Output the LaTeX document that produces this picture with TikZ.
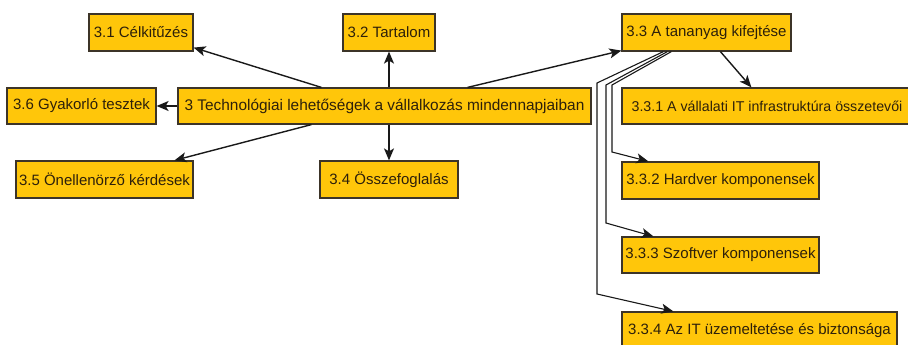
\documentclass[tikz,border=0pt]{standalone}
\usepackage{fontspec}
\setmainfont{Liberation Sans}
\usetikzlibrary{arrows.meta,calc}
\definecolor{boxfill}{RGB}{255,198,10}
\definecolor{boxline}{RGB}{60,52,40}
\definecolor{boxtext}{RGB}{45,32,10}
\begin{document}
\begin{tikzpicture}[x=1pt,y=-1pt,
  topic/.style={draw=boxline,line width=1.2pt,fill=boxfill,text=boxtext,
    font=\fontsize{15}{18}\selectfont,inner sep=0pt,anchor=center,
    minimum height=36pt},
  link/.style={draw=black!90,line width=1.4pt,-{Stealth[length=12pt,width=10pt,inset=3pt]}},
  sublink/.style={draw=black!90,line width=1.1pt,-{Stealth[length=12pt,width=10pt,inset=3pt]}}]
\useasboundingbox (0,0) rectangle (908,345);
\begin{scope}
\clip (0,0) rectangle (908,345);
% main topic and its sections
\node[topic,minimum width=413pt,font=\fontsize{15.4}{18}\selectfont] (main) at (384.5,106) {3 Technológiai lehetőségek a vállalkozás mindennapjaiban};
\node[topic,minimum width=104pt,minimum height=37pt] (n31) at (141,32.5) {3.1 Célkitűzés};
\node[topic,minimum width=92pt,minimum height=37pt] (n32) at (389,32.5) {3.2 Tartalom};
\node[topic,minimum width=169pt,minimum height=37pt] (n33) at (706.5,32.5) {3.3 A tananyag kifejtése};
\node[topic,minimum width=138pt,minimum height=37pt] (n34) at (389,179.5) {3.4 Összefoglalás};
\node[topic,minimum width=177pt,minimum height=37pt] (n35) at (104.5,179.5) {3.5 Önellenörző kérdések};
\node[topic,minimum width=149pt] (n36) at (81.5,106) {3.6 Gyakorló tesztek};
% subsections of 3.3
\node[topic,minimum width=290pt,font=\fontsize{14.2}{17}\selectfont] (n331) at (767,106) {3.3.1 A vállalati IT infrastruktúra összetevői};
\node[topic,minimum width=197pt,minimum height=37pt] (n332) at (720.5,180.5) {3.3.2 Hardver komponensek};
\node[topic,minimum width=197pt] (n333) at (720.5,255) {3.3.3 Szoftver komponensek};
\node[topic,minimum width=275pt,minimum height=37pt] (n334) at (759.5,330.5) {3.3.4 Az IT üzemeltetése és biztonsága};

% connectors from the main topic
\draw[link] ($(main.north west)+(144,0)$) -- ($(n31.south east)+(0,-4)$);
\draw[link] (n32 |- main.north) -- (n32.south);
\draw[link] (main.west) -- (n36.east);
\draw[link] ($(main.south west)+(134,0)$) -- ($(n35.north west)+(159,0)$);
\draw[link] (n34 |- main.south) -- (n34.north);
\draw[link] ($(main.north east)+(-124,0)$) -- ($(n33.south west)+(0,-1)$);

% connectors inside section 3.3
\draw[link] ($(n33.south west)+(99,0)$) -- ($(n331.north west)+(130,0)$);
\coordinate (b2a) at (612,85);  \coordinate (b2b) at (612,152);
\coordinate (b3a) at (606,85);  \coordinate (b3b) at (606,223);
\coordinate (b4a) at (597,83);  \coordinate (b4b) at (597,294);
\draw[sublink] ($(n33.south west)+(50,0)$) -- (b2a) -- (b2b) -- ($(n332.north west)+(27,0)$);
\draw[sublink] ($(n33.south west)+(46,0)$) -- (b3a) -- (b3b) -- ($(n333.north west)+(32,0)$);
\draw[sublink] ($(n33.south west)+(42,0)$) -- (b4a) -- (b4b) -- ($(n334.north west)+(52,0)$);
\end{scope}
\end{tikzpicture}
\end{document}
